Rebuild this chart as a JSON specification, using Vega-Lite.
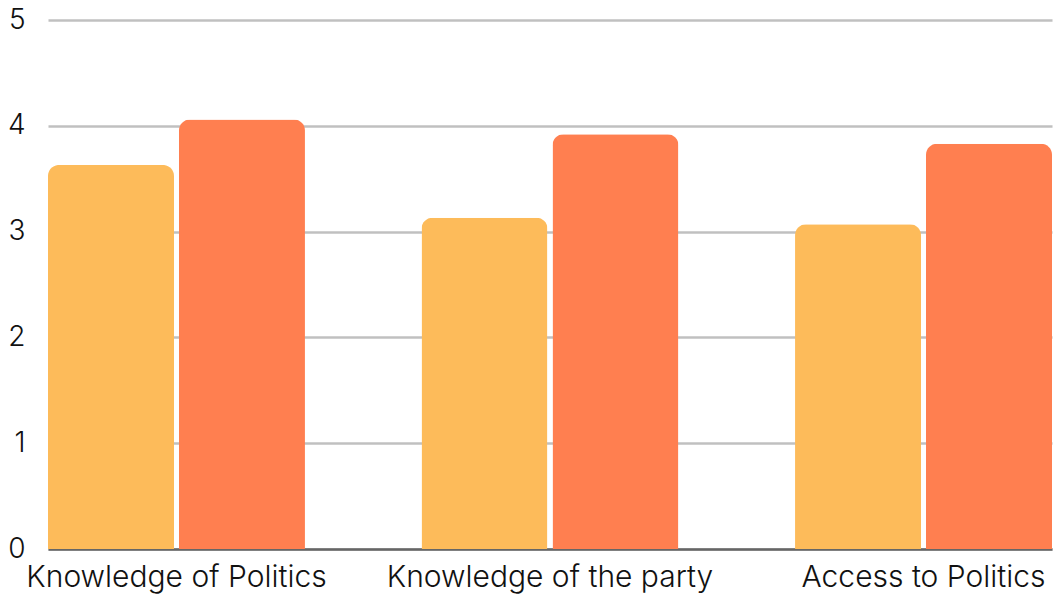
{
  "$schema": "https://vega.github.io/schema/vega-lite/v6.json",
  "autosize": {"type": "none"},
  "width": 1004,
  "height": 529,
  "padding": {"left": 48, "top": 20, "right": 11, "bottom": 47},
  "background": "white",
  "config": {
    "view": {"stroke": null},
    "font": "Inter"
  },
  "data": {
    "values": [
      {"category": "Knowledge of Politics", "series": "Series 1", "value": 3.63},
      {"category": "Knowledge of Politics", "series": "Series 2", "value": 4.06},
      {"category": "Knowledge of the party", "series": "Series 1", "value": 3.13},
      {"category": "Knowledge of the party", "series": "Series 2", "value": 3.92},
      {"category": "Access to Politics", "series": "Series 1", "value": 3.07},
      {"category": "Access to Politics", "series": "Series 2", "value": 3.83}
    ]
  },
  "mark": {"type": "bar", "cornerRadiusTopLeft": 11, "cornerRadiusTopRight": 11},
  "encoding": {
    "x": {
      "field": "category",
      "type": "nominal",
      "sort": null,
      "scale": {"paddingInner": 0.312, "paddingOuter": 0},
      "axis": {
        "title": null,
        "labelAngle": 0,
        "labelFontSize": 30,
        "labelFontWeight": 300,
        "labelColor": "#111111",
        "labelPadding": 13,
        "labelLimit": 0,
        "ticks": false,
        "domainColor": "#666666",
        "domainWidth": 2.5
      }
    },
    "xOffset": {
      "field": "series",
      "type": "nominal",
      "scale": {"paddingInner": 0.038, "paddingOuter": 0}
    },
    "y": {
      "field": "value",
      "type": "quantitative",
      "scale": {"domain": [0, 5], "nice": false},
      "axis": {
        "title": null,
        "values": [0, 1, 2, 3, 4, 5],
        "labelFontSize": 28,
        "labelFontWeight": 300,
        "labelColor": "#111111",
        "labelPadding": 23,
        "ticks": false,
        "domain": false,
        "gridColor": "#c0c0c0",
        "gridWidth": 2.5
      }
    },
    "color": {
      "field": "series",
      "type": "nominal",
      "scale": {"domain": ["Series 1", "Series 2"], "range": ["#fdbb5a", "#ff7f50"]},
      "legend": null
    }
  }
}
